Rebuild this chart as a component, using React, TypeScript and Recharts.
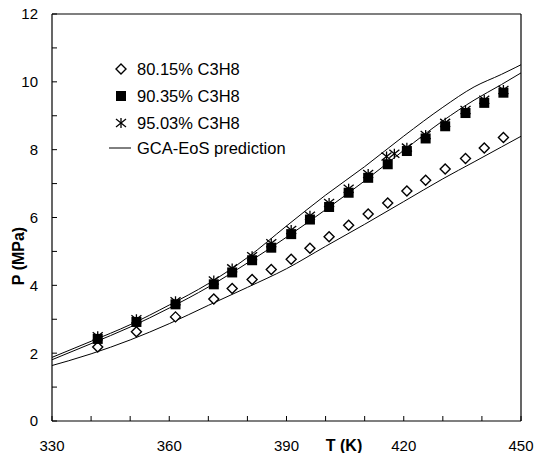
import React from 'react';
import { ComposedChart, Line, Scatter, XAxis, YAxis, ReferenceLine, Legend, Label } from 'recharts';

// measured points (T in K, P in MPa)
const tempExp = [341.7, 351.6, 361.6, 371.4, 376.1, 381.2, 386.1, 391.2, 396.0, 400.9, 405.9, 410.9, 415.9, 420.8, 425.6, 430.6, 435.8, 440.6, 445.5];
const p8015 = [2.18, 2.63, 3.07, 3.60, 3.91, 4.17, 4.47, 4.77, 5.09, 5.43, 5.77, 6.10, 6.43, 6.78, 7.10, 7.43, 7.74, 8.05, 8.36];
const p9035 = [2.42, 2.92, 3.44, 4.03, 4.38, 4.74, 5.11, 5.51, 5.94, 6.31, 6.73, 7.17, 7.57, 7.96, 8.33, 8.69, 9.08, 9.38, 9.68];
const tempExp95 = [341.7, 351.6, 361.6, 371.4, 376.1, 381.2, 386.1, 391.2, 396.0, 400.9, 405.9, 410.9, 415.6, 417.6, 420.8, 425.6, 430.6, 435.8, 440.6, 445.5];
const p9503 = [2.50, 3.00, 3.53, 4.14, 4.50, 4.86, 5.24, 5.63, 6.05, 6.43, 6.85, 7.28, 7.80, 7.88, 8.06, 8.43, 8.79, 9.17, 9.47, 9.76];

// GCA-EoS curves
const tempModel = [328.6, 340, 350, 360, 370, 380, 390, 400, 410, 420, 430, 438, 445, 452];
const model8015 = [1.59, 1.98, 2.39, 2.87, 3.41, 3.94, 4.49, 5.15, 5.80, 6.47, 7.14, 7.64, 8.08, 8.52];
const model9035 = [1.74, 2.28, 2.77, 3.33, 3.95, 4.66, 5.42, 6.23, 7.08, 7.98, 8.85, 9.46, 9.92, 10.40];
const model9503 = [1.81, 2.35, 2.84, 3.42, 4.05, 4.82, 5.75, 6.66, 7.50, 8.40, 9.25, 9.85, 10.22, 10.62];

const xTicks = [330, 340, 350, 360, 370, 380, 390, 400, 410, 420, 430, 440, 450];
const xLabels = [330, 360, 390, 420, 450];
const yTicks = [0, 1, 2, 3, 4, 5, 6, 7, 8, 9, 10, 11, 12];
const yLabels = [0, 2, 4, 6, 8, 10, 12];

const names = ['80.15% C3H8', '90.35% C3H8', '95.03% C3H8', 'GCA-EoS prediction'];

const toPoints = (ts: number[], ps: number[]) => ts.map((t, i) => ({ t, p: ps[i] }));

const FONT = '"Liberation Sans", Arial, sans-serif';

const Diamond = ({ cx, cy }: any) => (
  <polygon
    points={`${cx},${cy - 5} ${cx + 5},${cy} ${cx},${cy + 5} ${cx - 5},${cy}`}
    fill="#fff"
    stroke="#000"
    strokeWidth={1.4}
  />
);

const Square = ({ cx, cy }: any) => <rect x={cx - 5} y={cy - 5} width={10} height={10} fill="#000" />;

const Star = ({ cx, cy }: any) => (
  <g stroke="#000" strokeWidth={1.3}>
    <line x1={cx} y1={cy - 5} x2={cx} y2={cy + 5} />
    <line x1={cx - 5} y1={cy - 4} x2={cx + 5} y2={cy + 4} />
    <line x1={cx - 5} y1={cy + 4} x2={cx + 5} y2={cy - 4} />
  </g>
);

const XTick = ({ x, y, payload }: any) => (
  <g>
    <line x1={x} y1={y} x2={x} y2={y - 5} stroke="#000" />
    {xLabels.includes(payload.value) && (
      <text x={x} y={y + 30} textAnchor="middle" fontSize={15} fill="#000" fontFamily={FONT}>
        {payload.value}
      </text>
    )}
  </g>
);

const YTick = ({ x, y, payload }: any) => (
  <g>
    <line x1={x} y1={y} x2={x + 5} y2={y} stroke="#000" />
    {yLabels.includes(payload.value) && (
      <text x={x - 14} y={y} dy="0.36em" textAnchor="end" fontSize={15} fill="#000" fontFamily={FONT}>
        {payload.value}
      </text>
    )}
  </g>
);

const renderLegend = () => {
  const rows = [14, 41, 68, 93];
  const icons = [Diamond, Square, Star];
  return (
    <svg width={200} height={105} style={{ fontFamily: FONT }}>
      {names.map((name, i) => {
        const cy = rows[i];
        const Icon = icons[i];
        return (
          <g key={name}>
            {Icon ? (
              <Icon cx={21} cy={cy} />
            ) : (
              <line x1={9} y1={cy} x2={31} y2={cy} stroke="#000" strokeWidth={1} />
            )}
            <text x={37} y={cy + 6} fontSize={16.5} fill="#000">
              {name}
            </text>
          </g>
        );
      })}
    </svg>
  );
};

export default function App() {
  return (
    <div style={{ position: 'absolute', left: 0, top: 0, background: '#fff', fontFamily: FONT }}>
      <ComposedChart width={537} height={453} margin={{ top: 14, right: 16, left: 0, bottom: 0 }}>
        <XAxis
          type="number"
          dataKey="t"
          domain={[330, 450]}
          allowDataOverflow
          ticks={xTicks}
          interval={0}
          tickSize={0}
          tickMargin={0}
          tickLine={false}
          tick={<XTick />}
          axisLine={{ stroke: '#000', strokeWidth: 1.2 }}
          height={32}
        >
          <Label
            content={() => (
              <text x={344} y={451} textAnchor="middle" fontSize={16} fontWeight="bold" fill="#000" fontFamily={FONT}>
                T (K)
              </text>
            )}
          />
        </XAxis>
        <YAxis
          type="number"
          dataKey="p"
          domain={[0, 12]}
          allowDataOverflow
          ticks={yTicks}
          interval={0}
          tickSize={0}
          tickMargin={0}
          tickLine={false}
          tick={<YTick />}
          axisLine={{ stroke: '#000', strokeWidth: 1.2 }}
          width={52}
        >
          <Label
            content={() => (
              <text
                transform="translate(18,256) rotate(-90)"
                textAnchor="middle"
                dominantBaseline="central"
                fontSize={16}
                fontWeight="bold"
                fill="#000"
                fontFamily={FONT}
              >
                P (MPa)
              </text>
            )}
          />
        </YAxis>
        <ReferenceLine y={12} stroke="#000" strokeWidth={1.2} />
        <ReferenceLine x={450} stroke="#000" strokeWidth={1.2} />
        <Line data={toPoints(tempModel, model8015)} dataKey="p" type="monotone" stroke="#000" strokeWidth={1} dot={false} activeDot={false} isAnimationActive={false} name={names[3]} />
        <Line data={toPoints(tempModel, model9035)} dataKey="p" type="monotone" stroke="#000" strokeWidth={1} dot={false} activeDot={false} isAnimationActive={false} legendType="none" />
        <Line data={toPoints(tempModel, model9503)} dataKey="p" type="monotone" stroke="#000" strokeWidth={1} dot={false} activeDot={false} isAnimationActive={false} legendType="none" />
        <Scatter data={toPoints(tempExp, p8015)} dataKey="p" name={names[0]} shape={Diamond} isAnimationActive={false} />
        <Scatter data={toPoints(tempExp95, p9503)} dataKey="p" name={names[2]} shape={Star} isAnimationActive={false} />
        <Scatter data={toPoints(tempExp, p9035)} dataKey="p" name={names[1]} shape={Square} isAnimationActive={false} />
        <Legend
          layout="vertical"
          align="center"
          verticalAlign="middle"
          content={renderLegend}
          wrapperStyle={{ left: 100, top: 55, width: 200, height: 105 }}
        />
      </ComposedChart>
    </div>
  );
}
